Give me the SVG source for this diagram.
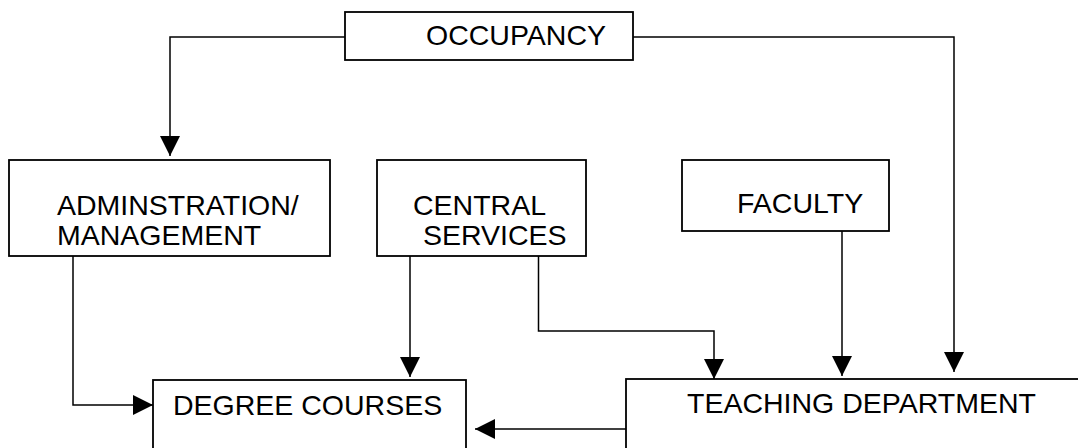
<svg xmlns="http://www.w3.org/2000/svg" width="1078" height="448" viewBox="0 0 1078 448">
  <style>
    .box { fill: #ffffff; stroke: #000000; stroke-width: 1.8; }
    .lbl { font-family: "Liberation Sans", Arial, sans-serif; font-size: 28.5px; fill: #000000; }
    .wire { fill: none; stroke: #000000; stroke-width: 1.5; }
  </style>
  <defs>
    <marker id="arrow" markerUnits="userSpaceOnUse" markerWidth="20" markerHeight="20" refX="20" refY="10" orient="auto">
      <path d="M0,0 L20,10 L0,20 Z" fill="#000000"/>
    </marker>
  </defs>
  <rect width="1078" height="448" fill="#ffffff"/>

  <!-- connectors -->
  <g id="connectors">
    <path class="wire" d="M345,37 H170 V156" marker-end="url(#arrow)"/>
    <path class="wire" d="M633,37 H954 V372" marker-end="url(#arrow)"/>
    <path class="wire" d="M73,256 V405 H153" marker-end="url(#arrow)"/>
    <path class="wire" d="M410,256 V377" marker-end="url(#arrow)"/>
    <path class="wire" d="M538.5,256 V331 H714 V379" marker-end="url(#arrow)"/>
    <path class="wire" d="M842,231 V376" marker-end="url(#arrow)"/>
    <path class="wire" d="M634,429 H475" marker-end="url(#arrow)"/>
  </g>

  <g id="occupancy">
    <rect class="box" x="345" y="12" width="288" height="48"/>
    <text class="lbl" x="426" y="45">OCCUPANCY</text>
  </g>

  <g id="administration">
    <rect class="box" x="9" y="160" width="321" height="96"/>
    <text class="lbl" x="57" y="215">ADMINSTRATION/</text>
    <text class="lbl" x="57" y="245">MANAGEMENT</text>
  </g>

  <g id="central-services">
    <rect class="box" x="377" y="160" width="209" height="96"/>
    <text class="lbl" x="413" y="215">CENTRAL</text>
    <text class="lbl" x="423" y="245">SERVICES</text>
  </g>

  <g id="faculty">
    <rect class="box" x="682" y="160" width="207" height="71"/>
    <text class="lbl" x="737" y="213">FACULTY</text>
  </g>

  <g id="degree-courses">
    <rect class="box" x="153" y="380" width="313" height="80"/>
    <text class="lbl" x="173" y="415">DEGREE COURSES</text>
  </g>

  <g id="teaching-department">
    <rect class="box" x="626" y="379" width="470" height="80"/>
    <text class="lbl" x="687" y="413">TEACHING DEPARTMENT</text>
  </g>
</svg>
